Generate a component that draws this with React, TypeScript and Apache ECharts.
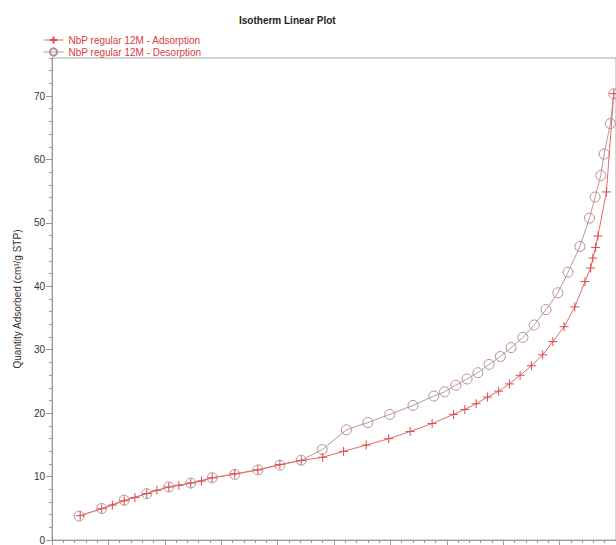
import React, { useEffect, useRef } from "react";
import * as echarts from "echarts";

const adsorptionPressure = [
  0.050, 0.088, 0.107, 0.128, 0.147, 0.168, 0.186, 0.207, 0.225, 0.246, 0.265, 0.284,
  0.324, 0.365, 0.404, 0.442, 0.480, 0.517, 0.557, 0.597, 0.635, 0.674, 0.712, 0.732,
  0.752, 0.772, 0.792, 0.811, 0.830, 0.850, 0.870, 0.888, 0.908, 0.927, 0.945, 0.955,
  0.959, 0.964, 0.968, 0.983, 0.996,
];
const adsorptionQuantity = [
  3.83, 4.92, 5.5, 6.17, 6.69, 7.31, 7.84, 8.36, 8.63, 8.98, 9.3, 9.81,
  10.44, 11.06, 11.9, 12.53, 13.05, 13.98, 14.97, 15.97, 17.11, 18.36, 19.81, 20.59,
  21.48, 22.53, 23.47, 24.61, 25.97, 27.47, 29.19, 31.28, 33.63, 36.75, 40.75, 42.89,
  44.45, 46.13, 47.94, 54.88, 70.39,
];
const desorptionPressure = [
  0.996, 0.990, 0.979, 0.973, 0.963, 0.953, 0.936, 0.915, 0.897, 0.876, 0.855, 0.835,
  0.814, 0.795, 0.775, 0.755, 0.736, 0.716, 0.696, 0.677, 0.640, 0.599, 0.560, 0.522,
  0.479, 0.442, 0.404, 0.365, 0.324, 0.284, 0.246, 0.207, 0.168, 0.128, 0.088, 0.048,
];
const desorptionQuantity = [
  70.34, 65.66, 60.86, 57.47, 54.09, 50.75, 46.28, 42.22, 38.98, 36.33, 33.9, 31.95,
  30.34, 28.94, 27.69, 26.38, 25.39, 24.41, 23.36, 22.69, 21.22, 19.81, 18.52, 17.38,
  14.25, 12.58, 11.8, 11.06, 10.34, 9.81, 8.98, 8.36, 7.31, 6.28, 4.97, 3.78,
];
const majorYTicks = [0, 10, 20, 30, 40, 50, 60, 70];

const FONT = "'Liberation Sans', Arial, Helvetica, sans-serif";
const PLUS = "path://M0,-5L0,5M-5,0L5,0";

export default function App() {
  const ref = useRef<HTMLDivElement>(null);
  useEffect(() => {
    if (!ref.current) return;
    const chart = echarts.init(ref.current, null, { renderer: "svg" });
    const ads = adsorptionPressure.map((p, i) => [p, adsorptionQuantity[i]]);
    const des = desorptionPressure.map((p, i) => [p, desorptionQuantity[i]]);
    chart.setOption({
      animation: false,
      backgroundColor: "#fff",
      textStyle: { fontFamily: FONT },
      title: {
        text: "Isotherm Linear Plot",
        left: 234,
        top: 10,
        textStyle: { fontSize: 10, fontWeight: "bold", color: "#222", fontFamily: FONT },
      },
      legend: {
        orient: "vertical",
        left: 38,
        top: 30,
        itemGap: 2,
        itemWidth: 20,
        itemHeight: 9,
        lineStyle: { width: 1 },
        textStyle: { color: "#d83c3c", fontSize: 10, fontFamily: FONT },
        data: ["NbP regular 12M - Adsorption", "NbP regular 12M - Desorption"],
      },
      grid: { left: 52, top: 58, right: -1, bottom: 2, show: true, borderColor: "#aaa", borderWidth: 1 },
      xAxis: {
        type: "value",
        min: 0,
        max: 1,
        interval: 0.1,
        axisLine: { lineStyle: { color: "#999" } },
        axisTick: { show: true, length: 5, lineStyle: { color: "#999" } },
        minorTick: { show: true, splitNumber: 5, length: 3, lineStyle: { color: "#999" } },
        axisLabel: { show: false },
        splitLine: { show: false },
      },
      yAxis: [
        {
          type: "value",
          min: 0,
          max: 76,
          interval: 2,
          position: "left",
          axisLine: { show: true, lineStyle: { color: "#999" } },
          axisTick: { show: true, length: 3, lineStyle: { color: "#999" } },
          axisLabel: { show: false },
          splitLine: { show: false },
        },
        {
          type: "value",
          min: 0,
          max: 76,
          position: "left",
          name: "Quantity Adsorbed (cm³/g STP)",
          nameLocation: "middle",
          nameGap: 30,
          nameTextStyle: { fontSize: 10, color: "#333", fontFamily: FONT },
          axisLine: { show: true, lineStyle: { color: "#999" } },
          axisTick: { show: true, length: 6, customValues: majorYTicks, lineStyle: { color: "#999" } },
          axisLabel: { customValues: majorYTicks, fontSize: 10, color: "#333", margin: 7, fontFamily: FONT },
          splitLine: { show: false },
        },
      ],
      series: [
        {
          name: "NbP regular 12M - Adsorption",
          type: "line",
          data: ads,
          symbol: PLUS,
          symbolSize: 9,
          lineStyle: { color: "#e36a6a", width: 1 },
          itemStyle: { color: "rgba(255,255,255,0)", borderColor: "#e04a4a", borderWidth: 1 },
          z: 3,
        },
        {
          name: "NbP regular 12M - Desorption",
          type: "line",
          data: des,
          symbol: "circle",
          symbolSize: 10,
          lineStyle: { color: "#bd9898", width: 1 },
          itemStyle: { color: "rgba(255,255,255,0)", borderColor: "#b38f8f", borderWidth: 1 },
          z: 2,
        },
      ],
    });
    return () => chart.dispose();
  }, []);
  return (
    <div
      ref={ref}
      style={{ position: "fixed", left: 0, top: 0, width: 616, height: 545 }}
    />
  );
}
